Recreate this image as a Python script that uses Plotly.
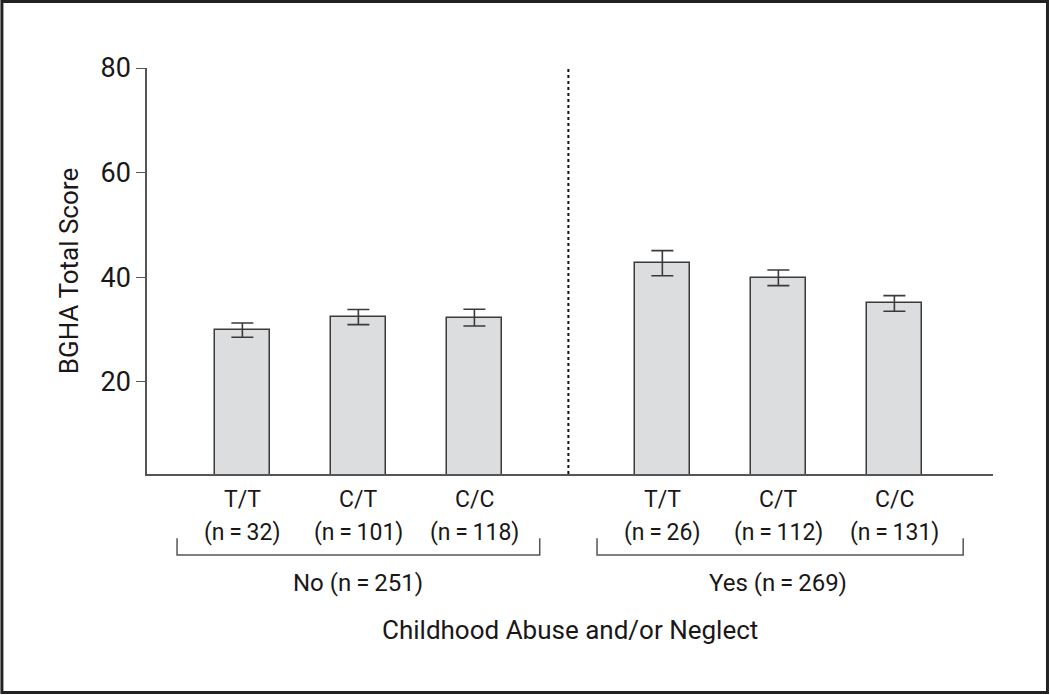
import plotly.graph_objects as go

# ---- data ----
groups = ["No (n\u2009=\u2009251)", "Yes (n\u2009=\u2009269)"]
genotypes = ["T/T", "C/T", "C/C"]
group_n = [["32", "101", "118"], ["26", "112", "131"]]
means = [29.9, 32.4, 32.3, 42.7, 39.9, 35.0]
errors = [1.35, 1.45, 1.6, 2.4, 1.5, 1.5]
y_ticks = [20, 40, 60, 80]
x_title = "Childhood Abuse and/or Neglect"
y_title = "BGHA Total Score"

# ---- layout helpers ----
GROUP_GAP = 3.62
xs, labels = [], []
for g in range(len(groups)):
    for i, gt in enumerate(genotypes):
        xs.append(1 + g * GROUP_GAP + i)
        labels.append((gt, group_n[g][i]))

FONT = "Roboto, Liberation Sans, Arial, sans-serif"
TXT = "#1a1718"

fig = go.Figure()
fig.add_trace(go.Bar(
    x=xs, y=means, width=0.478,
    marker=dict(color="#dcdddf", line=dict(color="#3a3a3a", width=1.5)),
    error_y=dict(type="data", array=errors, visible=True, color="#3a3a3a",
                 thickness=1.6, width=11),
    showlegend=False, hoverinfo="y",
))

y_min = 2.4
fig.update_layout(
    width=1050, height=695,
    margin=dict(l=147, r=57, t=68, b=221),
    paper_bgcolor="white", plot_bgcolor="white",
    font=dict(family=FONT, color=TXT),
    bargap=0,
    xaxis=dict(range=[0.178, 7.47], showticklabels=False, ticks="",
               showgrid=False, zeroline=False, showline=True,
               linecolor="#555", linewidth=1.5, fixedrange=True),
    yaxis=dict(range=[y_min, 80], tickvals=y_ticks, ticks="outside",
               ticklen=9, tickwidth=1.3, tickcolor="#555",
               showgrid=False, zeroline=False, showline=True,
               linecolor="#555", linewidth=1.5,
               tickfont=dict(size=27, family=FONT, color=TXT),
               title=dict(text=y_title, font=dict(size=26, family=FONT, color=TXT),
                          standoff=14)),
)

# category labels
for x, (gt, n) in zip(xs, labels):
    fig.add_annotation(x=x, y=-0.0616, xref="x", yref="paper", text=gt,
                       showarrow=False, font=dict(size=23, family=FONT, color=TXT),
                       yanchor="middle")
    fig.add_annotation(x=x, y=-0.143, xref="x", yref="paper",
                       text=f"(n\u2009=\u2009{n})",
                       showarrow=False, font=dict(size=23, family=FONT, color=TXT),
                       yanchor="middle")

# brackets and group labels
for g, name in enumerate(groups):
    center = 2 + g * GROUP_GAP
    x0, x1 = center - 1.563, center + 1.563 + (0.03 if g else 0)
    yb, yt = -0.1995, -0.158
    fig.add_shape(type="path", xref="x", yref="paper",
                  path=f"M {x0},{yt} L {x0},{yb} L {x1},{yb} L {x1},{yt}",
                  line=dict(color="#555", width=1.5))
    fig.add_annotation(x=center, y=-0.268, xref="x", yref="paper", text=name,
                       showarrow=False, font=dict(size=24, family=FONT, color=TXT),
                       yanchor="middle")

# x title
fig.add_annotation(x=0.5, y=-0.384, xref="paper", yref="paper", text=x_title,
                   showarrow=False, font=dict(size=26, family=FONT, color=TXT),
                   yanchor="middle", xanchor="center")

# dotted separator
sep = (3 + 1 + GROUP_GAP) / 2
fig.add_shape(type="line", xref="x", yref="paper", x0=sep, x1=sep,
              y0=0, y1=1.004, line=dict(color="#111", width=2, dash="dot"))

# outer frame
fig.add_shape(type="rect", xref="paper", yref="paper",
              x0=-0.1715, x1=1.0644, y0=-0.538, y1=1.1638,
              line=dict(color="#222", width=3))

fig.write_html("out.html", config={"displayModeBar": False},
               post_script="document.body.style.margin='0';document.body.style.overflow='hidden';")
